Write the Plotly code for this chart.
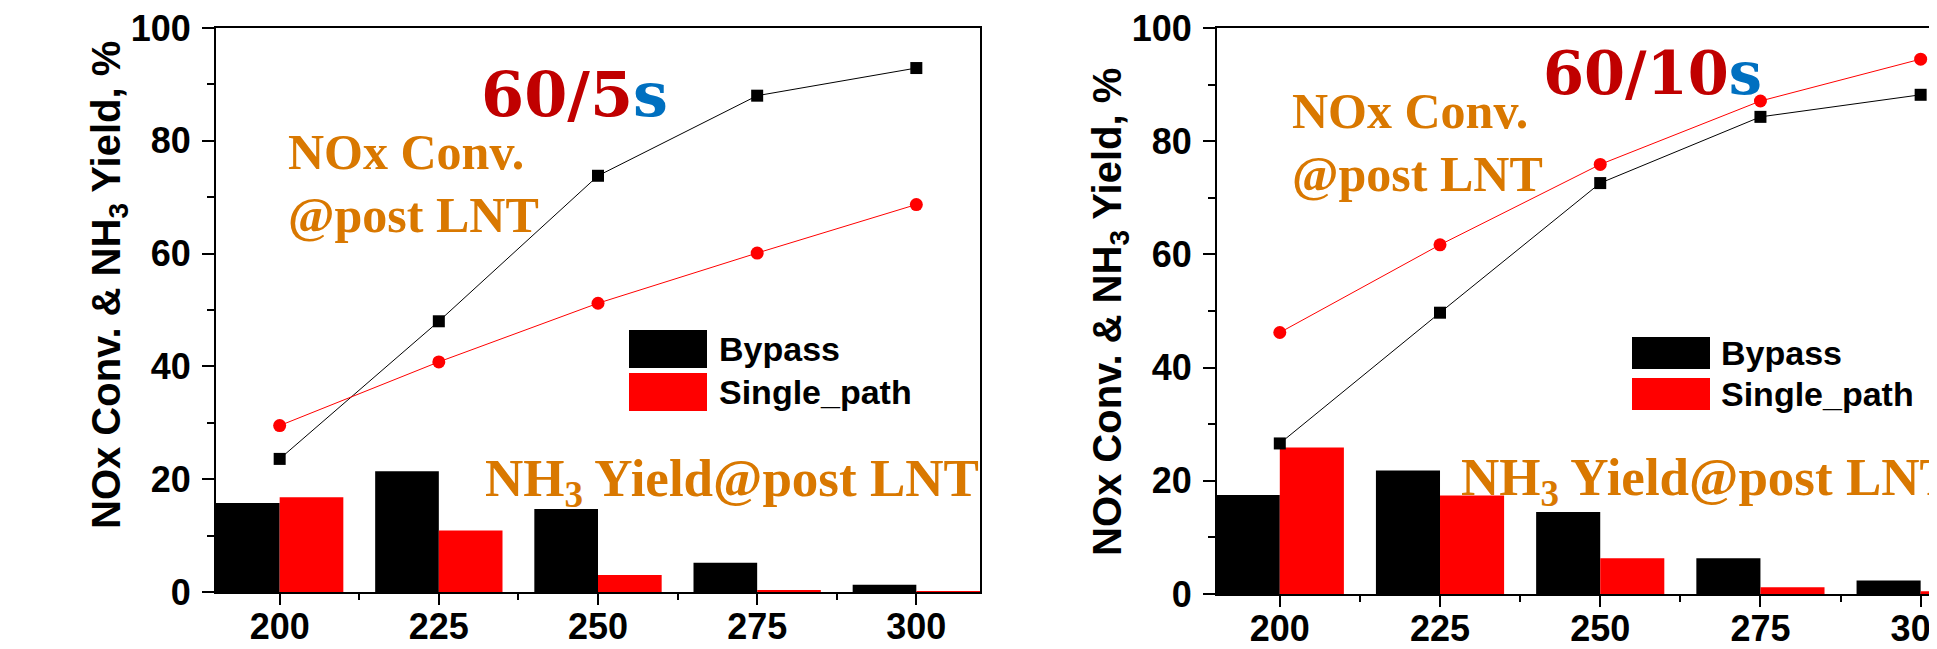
import plotly.graph_objects as go

# ---------------- data ----------------
temps = [200, 225, 250, 275, 300]
x_tick_labels = ["200", "225", "250", "275", "300"]
y_tick_vals = [0, 20, 40, 60, 80, 100]

# Panel 1 : 60/5s
nh3_bypass_5 = [15.8, 21.4, 14.7, 5.2, 1.3]
nh3_single_5 = [16.8, 10.9, 3.0, 0.3, 0.15]
nox_bypass_5 = [23.6, 48.0, 73.8, 88.0, 92.9]
nox_single_5 = [29.5, 40.8, 51.2, 60.1, 68.7]

# Panel 2 : 60/10s
nh3_bypass_10 = [17.5, 21.8, 14.5, 6.3, 2.4]
nh3_single_10 = [25.9, 17.4, 6.3, 1.2, 0.5]
nox_bypass_10 = [26.6, 49.7, 72.6, 84.3, 88.2]
nox_single_10 = [46.2, 61.7, 75.9, 87.1, 94.5]

series_names = ["Bypass", "Single_path"]
y_title = "NOx Conv. &amp; NH<sub>3</sub> Yield, %"
x_title = "Temperature, °C"

# ---------------- styling ----------------
W, H = 1937, 649
OFF = 8  # page body margin offset
BLACK = "#000000"
RED = "#FF0000"
ORANGE = "#D97800"
DARKRED = "#C00000"
BLUE = "#0070C0"
SANS = "Liberation Sans, Arial, sans-serif"
SERIF = "Liberation Serif, Times New Roman, serif"
SERIF2 = "DejaVu Serif, serif"


def px(x):
    return (x - OFF) / W


def py(y):
    return 1 - (y - OFF) / H


fig = go.Figure()

panels = [
    dict(xa="x", ya="y", bb=nh3_bypass_5, bs=nh3_single_5, lb=nox_bypass_5, ls=nox_single_5),
    dict(xa="x2", ya="y2", bb=nh3_bypass_10, bs=nh3_single_10, lb=nox_bypass_10, ls=nox_single_10),
]

for p in panels:
    fig.add_trace(go.Bar(x=temps, y=p["bb"], width=10, offset=-10, name=series_names[0],
                         marker=dict(color=BLACK, line=dict(width=0)),
                         xaxis=p["xa"], yaxis=p["ya"], showlegend=False))
    fig.add_trace(go.Bar(x=temps, y=p["bs"], width=10, offset=0, name=series_names[1],
                         marker=dict(color=RED, line=dict(width=0)),
                         xaxis=p["xa"], yaxis=p["ya"], showlegend=False))
    fig.add_trace(go.Scatter(x=temps, y=p["lb"], mode="lines+markers", name=series_names[0],
                             line=dict(color=BLACK, width=1),
                             marker=dict(symbol="square", size=12, color=BLACK),
                             xaxis=p["xa"], yaxis=p["ya"], showlegend=False))
    fig.add_trace(go.Scatter(x=temps, y=p["ls"], mode="lines+markers", name=series_names[1],
                             line=dict(color=RED, width=1),
                             marker=dict(symbol="circle", size=13, color=RED),
                             xaxis=p["xa"], yaxis=p["ya"], showlegend=False))

tickfont = dict(family=SANS, size=36, color=BLACK, weight="bold")

xcommon = dict(tickmode="array", tickvals=temps, ticktext=x_tick_labels,
               ticks="outside", ticklen=11, tickwidth=1.5, tickcolor=BLACK,
               minor=dict(dtick=12.5, tick0=200, ticks="outside", ticklen=6, tickwidth=1.5, tickcolor=BLACK),
               showline=True, linecolor=BLACK, linewidth=2, showgrid=False, zeroline=False,
               tickfont=tickfont, fixedrange=True, automargin=False,
               ticklabeloverflow="allow", ticklabelstandoff=-9)
ycommon = dict(tickmode="array", tickvals=y_tick_vals, range=[0, 100],
               ticks="outside", ticklen=12, tickwidth=1.5, tickcolor=BLACK,
               minor=dict(dtick=10, tick0=0, ticks="outside", ticklen=7, tickwidth=1.5, tickcolor=BLACK),
               showline=True, linecolor=BLACK, linewidth=2, showgrid=False, zeroline=False,
               tickfont=tickfont, fixedrange=True, automargin=False,
               ticklabeloverflow="allow", ticklabelstandoff=4)

fig.update_layout(
    width=W, height=H,
    margin=dict(l=0, r=0, t=0, b=0, pad=0, autoexpand=False),
    paper_bgcolor="white", plot_bgcolor="white",
    barmode="overlay",
    showlegend=False,
    xaxis=dict(xcommon, domain=[px(216), px(980)], range=[190, 310], anchor="y", mirror=True),
    yaxis=dict(ycommon, domain=[py(592), py(28)], anchor="x", mirror=True),
    xaxis2=dict(xcommon, domain=[px(1217), 1.0], range=[190.2, 303.8], anchor="y2", mirror=True),
    yaxis2=dict(ycommon, domain=[py(594), py(28)], anchor="x2", mirror=False),
    xaxis3=dict(overlaying="x2", side="top", anchor="y2", range=[190.2, 303.8],
                tick0=202, dtick=12, ticks="inside", ticklen=3, tickwidth=1.5, tickcolor=BLACK,
                showticklabels=False, showline=False, showgrid=False, zeroline=False,
                fixedrange=True, automargin=False),
)

ann = []
shapes = []


def text(x, y, t, font, xanchor="left", yanchor="middle", angle=0):
    ann.append(dict(x=px(x), y=py(y), xref="paper", yref="paper", text=t, showarrow=False,
                    xanchor=xanchor, yanchor=yanchor, textangle=angle, font=font, borderpad=0))


ytfont = dict(family=SANS, size=40, color=BLACK, weight="bold")
# y axis titles
text(109, 285, y_title, ytfont, xanchor="center", angle=-90)
text(1110, 312, y_title, ytfont, xanchor="center", angle=-90)
# x axis title (mostly cut off at the bottom)
text(660, 637, x_title, dict(family=SANS, size=55, color=BLACK, weight="bold"),
     xanchor="center", yanchor="top")

# panel labels
rich5 = '<span style="color:%s">60/5</span><span style="color:%s">s</span>' % (DARKRED, BLUE)
rich10 = '<span style="color:%s">60/10</span><span style="color:%s">s</span>' % (DARKRED, BLUE)
text(574, 94, rich5, dict(family=SERIF2, size=62, color=DARKRED, weight="bold"), xanchor="center")
text(1652, 74, rich10, dict(family=SERIF2, size=59, color=DARKRED, weight="bold"), xanchor="center")

ofont = dict(family=SERIF, size=50, color=ORANGE, weight="bold")
text(287, 152, "NOx Conv.", ofont)
text(287, 215, "@post LNT", ofont)
text(1291, 111, "NOx Conv.", ofont)
text(1291, 174, "@post LNT", ofont)

nfont = dict(family=SERIF, size=53, color=ORANGE, weight="bold")
text(484, 482, "NH<sub>3</sub> Yield@post LNT", nfont)
text(1460, 481, "NH<sub>3</sub> Yield@post LNT", nfont)

# custom legends
lgfont = dict(family=SANS, size=34, color=BLACK, weight="bold")
legend_boxes = [(629, 707, 330, 368, 373, 411, 718), (1632, 1710, 337, 369, 378, 410, 1720)]
for (lx0, lx1, b0, b1, r0, r1, tx) in legend_boxes:
    shapes.append(dict(type="rect", xref="paper", yref="paper", x0=px(lx0), x1=px(lx1),
                       y0=py(b1), y1=py(b0), fillcolor=BLACK, line=dict(width=0)))
    shapes.append(dict(type="rect", xref="paper", yref="paper", x0=px(lx0), x1=px(lx1),
                       y0=py(r1), y1=py(r0), fillcolor=RED, line=dict(width=0)))
    text(tx, (b0 + b1) / 2, series_names[0], lgfont)
    text(tx, (r0 + r1) / 2, series_names[1], lgfont)

fig.update_layout(annotations=ann, shapes=shapes)

fig.write_html("out.html")
